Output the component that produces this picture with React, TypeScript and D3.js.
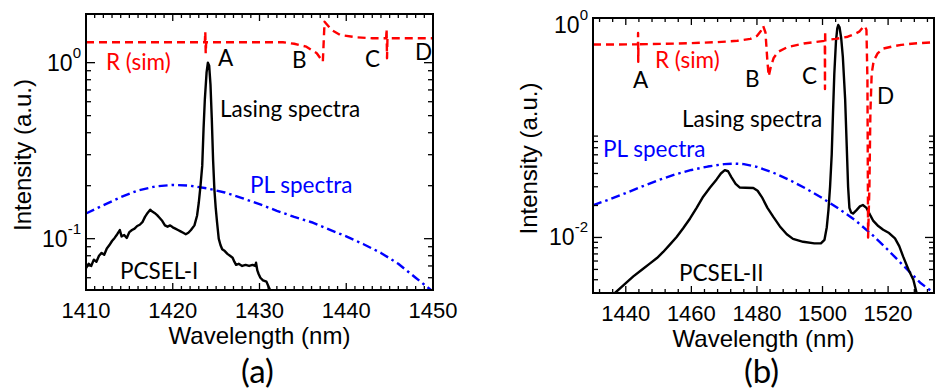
import React from 'react';
import * as d3 from 'd3';

type Pt = [number, number];

// ---------- Panel (a) data: PCSEL-I ----------
const lasingA: Pt[] = [
  [1410.0, 0.068], [1410.3, 0.072], [1410.6, 0.070], [1410.9, 0.076], [1411.2, 0.074],
  [1411.5, 0.080], [1411.8, 0.083], [1412.1, 0.081], [1412.4, 0.088], [1412.7, 0.092],
  [1413.0, 0.097], [1413.3, 0.101], [1413.6, 0.106], [1413.9, 0.112], [1414.1, 0.103],
  [1414.4, 0.105], [1414.7, 0.101], [1415.0, 0.109], [1415.3, 0.112], [1415.6, 0.114],
  [1415.9, 0.118], [1416.2, 0.120], [1416.5, 0.124], [1416.8, 0.133], [1417.1, 0.140],
  [1417.4, 0.146], [1417.6, 0.143], [1417.9, 0.140], [1418.2, 0.136], [1418.5, 0.131],
  [1418.8, 0.126], [1419.1, 0.119], [1419.4, 0.117], [1419.7, 0.119], [1420.0, 0.116],
  [1420.3, 0.114], [1420.6, 0.112], [1420.9, 0.110], [1421.2, 0.108], [1421.5, 0.106],
  [1421.8, 0.108], [1422.1, 0.112], [1422.5, 0.119], [1422.8, 0.135], [1423.0, 0.160],
  [1423.2, 0.200], [1423.4, 0.260], [1423.55, 0.420], [1423.7, 0.620], [1423.9, 0.880],
  [1424.05, 1.0], [1424.2, 0.960], [1424.35, 0.750], [1424.5, 0.480], [1424.65, 0.280],
  [1424.8, 0.190], [1424.95, 0.150], [1425.1, 0.125], [1425.3, 0.100], [1425.5, 0.092],
  [1425.7, 0.087], [1426.0, 0.085], [1426.3, 0.082], [1426.6, 0.080], [1426.9, 0.078],
  [1427.1, 0.074], [1427.3, 0.071], [1427.6, 0.072], [1428.0, 0.070], [1428.4, 0.071],
  [1428.8, 0.070], [1429.2, 0.071], [1429.5, 0.070], [1429.6, 0.073], [1429.75, 0.066],
  [1429.9, 0.063], [1430.1, 0.060], [1430.4, 0.058], [1430.8, 0.057], [1431.0, 0.054],
  [1431.3, 0.050],
];

const plA: Pt[] = [
  [1410, 0.139], [1412, 0.155], [1414, 0.172], [1416, 0.188], [1418, 0.198],
  [1420, 0.202], [1422, 0.200], [1424, 0.193], [1426, 0.183], [1428, 0.170],
  [1430, 0.157], [1432, 0.144], [1434, 0.133], [1436, 0.124], [1438, 0.113],
  [1440, 0.103], [1442, 0.093], [1444, 0.083], [1446, 0.072], [1448, 0.060],
  [1450, 0.050],
];

const reflA: Pt[] = [
  [1410, 1.306], [1423.7, 1.306], [1423.75, 1.5], [1423.8, 1.13], [1423.85, 1.306],
  [1432.7, 1.306], [1434.0, 1.28], [1435.4, 1.233], [1436.6, 1.131], [1437.3, 1.013],
  [1437.5, 1.71], [1438.3, 1.534], [1439.3, 1.437], [1441.2, 1.394], [1443.0, 1.376],
  [1444.6, 1.376], [1444.65, 1.55], [1444.7, 1.06], [1444.75, 1.376], [1450, 1.376],
];

// ---------- Panel (b) data: PCSEL-II ----------
const lasingB: Pt[] = [
  [1436.7, 0.0030], [1439.5, 0.0036], [1442.3, 0.0043], [1445.0, 0.0050], [1447.4, 0.0057],
  [1449.5, 0.0064], [1451.4, 0.0073], [1453.5, 0.0086], [1455.5, 0.0101], [1457.5, 0.0122],
  [1459.6, 0.0151], [1461.6, 0.0190], [1463.6, 0.0242], [1465.7, 0.0295], [1467.7, 0.0352],
  [1469.0, 0.0400], [1470.2, 0.0430], [1471.2, 0.0420], [1472.2, 0.0370], [1473.5, 0.0320],
  [1474.8, 0.0295], [1476.5, 0.0294], [1478.9, 0.0292], [1480.2, 0.0275], [1481.5, 0.0240],
  [1483.2, 0.0190], [1485.0, 0.0156], [1487.0, 0.0127], [1489.1, 0.0107], [1491.0, 0.0097],
  [1494.1, 0.0091], [1497.5, 0.0088], [1499.5, 0.0088], [1500.6, 0.0095], [1501.3, 0.0125],
  [1501.8, 0.0180], [1502.3, 0.0300], [1502.8, 0.0600], [1503.2, 0.150], [1503.6, 0.350],
  [1504.1, 0.700], [1504.5, 0.930], [1504.8, 1.0], [1505.2, 0.950], [1505.7, 0.750],
  [1506.2, 0.500], [1506.9, 0.200], [1507.4, 0.070], [1507.8, 0.030], [1508.2, 0.0190],
  [1508.7, 0.0172], [1509.3, 0.0168], [1510.3, 0.0180], [1511.4, 0.0196], [1512.3, 0.0202],
  [1513.4, 0.0190], [1514.5, 0.0163], [1515.5, 0.0143], [1517.0, 0.0128], [1518.5, 0.0118],
  [1520.3, 0.0110], [1522.1, 0.0098], [1523.4, 0.0083], [1524.6, 0.0066], [1526.2, 0.0050],
  [1527.7, 0.0040], [1528.7, 0.0030],
];

const plB: Pt[] = [
  [1430, 0.0201], [1435, 0.0228], [1440, 0.0262], [1445, 0.0302], [1450, 0.0347],
  [1455, 0.0392], [1460, 0.0432], [1465, 0.0465], [1470, 0.0490], [1473, 0.0496],
  [1476, 0.0490], [1480, 0.0462], [1485, 0.0407], [1490, 0.0347], [1495, 0.0288],
  [1500, 0.0234], [1505, 0.0186], [1510, 0.0145], [1515, 0.0107], [1520, 0.0076],
  [1525, 0.0053], [1530, 0.0037], [1534, 0.0030],
];

const reflB: Pt[] = [
  [1430, 0.655], [1443.7, 0.657], [1443.75, 0.84], [1443.8, 0.45], [1443.85, 0.658],
  [1452, 0.665], [1460, 0.675], [1468, 0.69], [1474, 0.71], [1478, 0.74],
  [1480, 0.79], [1481.2, 0.88], [1481.9, 0.98], [1482.6, 0.85], [1483.2, 0.45],
  [1483.6, 0.33], [1484.2, 0.40], [1485.1, 0.49], [1486.5, 0.56], [1489.3, 0.62],
  [1494.3, 0.67], [1500.7, 0.71], [1500.75, 0.25], [1500.8, 0.88], [1500.85, 0.72],
  [1504, 0.74], [1507.7, 0.776], [1510, 0.83], [1511.2, 0.865], [1512.4, 0.96],
  [1512.9, 0.98], [1513.4, 0.9], [1513.7, 0.3], [1513.9, 0.01], [1514.3, 0.03],
  [1514.6, 0.15], [1515.0, 0.35], [1515.6, 0.46], [1516.8, 0.54], [1518.5, 0.60],
  [1521, 0.625], [1524, 0.65], [1528, 0.67], [1534, 0.687],
];

// ---------- Tick labels ----------
const xTickLabelsA = [1410, 1420, 1430, 1440, 1450];
const xTickLabelsB = [1440, 1460, 1480, 1500, 1520];
const yExpA = [0, -1];
const yExpB = [0, -2];

const AXIS_FONT = "'Liberation Sans', Arimo, Arial, Helvetica, sans-serif";
const NOTE_FONT = "Lato, 'Open Sans', sans-serif";

type Note = { t: string; x: number; y: number; c: string };

type PanelProps = {
  id: string;
  xDomain: [number, number];
  xRange: [number, number];
  yDomain: [number, number];
  yRange: [number, number];
  xMajor: number[];
  xMinorStep: number;
  yExp: number[];
  yMinorMax: number;
  lasing: Pt[];
  pl: Pt[];
  refl: Pt[];
  notes: Note[];
  yTitleX: number;
  panelLabel: string;
};

function Panel(p: PanelProps) {
  const x = d3.scaleLinear().domain(p.xDomain).range(p.xRange);
  const y = d3.scaleLog().domain(p.yDomain).range(p.yRange);
  const [x0, x1] = p.xRange;
  const [yb, yt] = p.yRange;
  const line = d3.line<Pt>().x((d) => x(d[0])).y((d) => y(d[1]));

  const xMinor: number[] = [];
  const start = Math.ceil(p.xDomain[0] / p.xMinorStep) * p.xMinorStep;
  for (let v = start; v <= p.xDomain[1] + 1e-9; v += p.xMinorStep) {
    if (!p.xMajor.includes(Math.round(v))) xMinor.push(v);
  }
  const yMinor: number[] = [];
  for (let k = -4; k <= 1; k++) {
    for (let m = 2; m <= 9; m++) {
      const v = m * Math.pow(10, k);
      if (v > p.yDomain[0] && v < p.yDomain[1] && v <= p.yMinorMax) yMinor.push(v);
    }
  }
  const yMajorTicks = p.yExp.map((e) => Math.pow(10, e)).filter((v) => v <= p.yMinorMax * 1.0001);

  const cx = (x0 + x1) / 2;
  const cy = (yb + yt) / 2;
  const axisStyle = { fontFamily: AXIS_FONT };
  const noteStyle = { fontFamily: NOTE_FONT };

  return (
    <g>
      <defs>
        <clipPath id={`clip-${p.id}`}>
          <rect x={x0} y={yt} width={x1 - x0} height={yb - yt} />
        </clipPath>
      </defs>
      <g clipPath={`url(#clip-${p.id})`} fill="none" strokeLinejoin="round">
        <path d={line(p.pl) || ''} stroke="#0000ff" strokeWidth={2.4} strokeDasharray="9,4,2.5,4" />
        <path d={line(p.lasing) || ''} stroke="#000" strokeWidth={2.4} />
        <path d={line(p.refl) || ''} stroke="#ff0000" strokeWidth={2.4} strokeDasharray="8,5" />
      </g>
      <g stroke="#000" strokeWidth={1.3}>
        {xMinor.map((v) => (
          <g key={`xm${v}`}>
            <line x1={x(v)} x2={x(v)} y1={yb} y2={yb - 4} />
            <line x1={x(v)} x2={x(v)} y1={yt} y2={yt + 4} />
          </g>
        ))}
        {p.xMajor.map((v) => (
          <g key={`xM${v}`}>
            <line x1={x(v)} x2={x(v)} y1={yb} y2={yb - 7} />
            <line x1={x(v)} x2={x(v)} y1={yt} y2={yt + 7} />
          </g>
        ))}
        {yMinor.map((v) => (
          <g key={`ym${v}`}>
            <line x1={x0} x2={x0 + 5} y1={y(v)} y2={y(v)} />
            <line x1={x1} x2={x1 - 5} y1={y(v)} y2={y(v)} />
          </g>
        ))}
        {yMajorTicks.map((v) => (
          <g key={`yM${v}`}>
            <line x1={x0} x2={x0 + 9} y1={y(v)} y2={y(v)} />
            <line x1={x1} x2={x1 - 9} y1={y(v)} y2={y(v)} />
          </g>
        ))}
      </g>
      <rect x={x0} y={yt} width={x1 - x0} height={yb - yt} fill="none" stroke="#000" strokeWidth={2} />
      {p.xMajor.map((v) => (
        <text key={`xl${v}`} x={x(v)} y={yb + 28} style={axisStyle} fontSize={22} textAnchor="middle" fill="#000">
          {v}
        </text>
      ))}
      {p.yExp.map((e) => (
        <text key={`yl${e}`} x={x0 - 5} y={y(Math.pow(10, e)) + 8} style={axisStyle} fontSize={23} textAnchor="end" fill="#000">
          10
          <tspan dy={-13} fontSize={15}>{e}</tspan>
        </text>
      ))}
      <text x={cx} y={yb + 54} style={axisStyle} fontSize={24} textAnchor="middle">
        Wavelength (nm)
      </text>
      <text
        transform={`translate(${p.yTitleX},${cy + 3}) rotate(-90)`}
        style={axisStyle}
        fontSize={24}
        textAnchor="middle"
      >
        Intensity (a.u.)
      </text>
      <text x={cx - 2} y={383} style={noteStyle} fontSize={33} textAnchor="middle">
        {p.panelLabel}
      </text>
      {p.notes.map((n, i) => (
        <text key={i} x={n.x} y={n.y} fill={n.c} style={noteStyle} fontSize={22.5}>
          {n.t}
        </text>
      ))}
    </g>
  );
}

export default function App() {
  return (
    <svg
      width={935}
      height={391}
      viewBox="0 0 935 391"
      style={{ position: 'absolute', left: 0, top: 0, background: '#fff' }}
    >
      <rect x={0} y={0} width={935} height={391} fill="#fff" />
      <Panel
        id="a"
        xDomain={[1410, 1450]}
        xRange={[86, 433]}
        yDomain={[0.0511, 1.89]}
        yRange={[290, 14]}
        xMajor={xTickLabelsA}
        xMinorStep={1}
        yExp={yExpA}
        yMinorMax={10}
        lasing={lasingA}
        pl={plA}
        refl={reflA}
        yTitleX={31}
        panelLabel="(a)"
        notes={[
          { t: 'R (sim)', x: 106, y: 70, c: '#ff0000' },
          { t: 'A', x: 218, y: 66, c: '#000' },
          { t: 'B', x: 292, y: 68, c: '#000' },
          { t: 'C', x: 365, y: 67, c: '#000' },
          { t: 'D', x: 415, y: 60, c: '#000' },
          { t: 'Lasing spectra', x: 220, y: 117, c: '#000' },
          { t: 'PL spectra', x: 250, y: 193, c: '#0000ff' },
          { t: 'PCSEL-I', x: 120, y: 279, c: '#000' },
        ]}
      />
      <Panel
        id="b"
        xDomain={[1430, 1534]}
        xRange={[593, 934]}
        yDomain={[0.003, 1.164]}
        yRange={[293, 18]}
        xMajor={xTickLabelsB}
        xMinorStep={4}
        yExp={yExpB}
        yMinorMax={0.1}
        lasing={lasingB}
        pl={plB}
        refl={reflB}
        yTitleX={537}
        panelLabel="(b)"
        notes={[
          { t: 'R (sim)', x: 655, y: 68, c: '#ff0000' },
          { t: 'A', x: 633, y: 88, c: '#000' },
          { t: 'B', x: 745, y: 87, c: '#000' },
          { t: 'C', x: 802, y: 84, c: '#000' },
          { t: 'D', x: 877, y: 104, c: '#000' },
          { t: 'Lasing spectra', x: 682, y: 127, c: '#000' },
          { t: 'PL spectra', x: 603, y: 157, c: '#0000ff' },
          { t: 'PCSEL-II', x: 679, y: 281, c: '#000' },
        ]}
      />
    </svg>
  );
}
